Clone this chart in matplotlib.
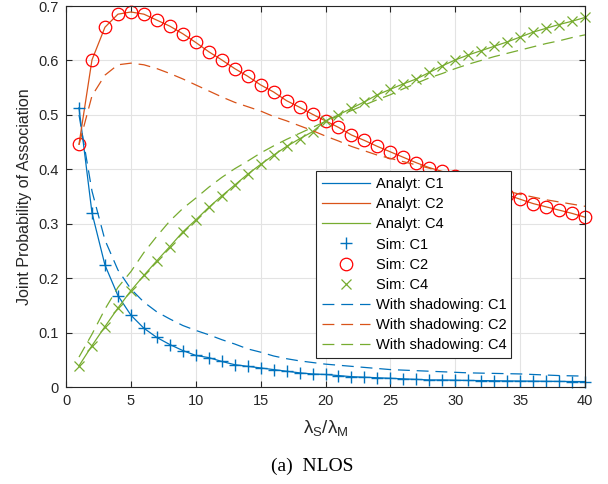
import numpy as np
import matplotlib
matplotlib.use("Agg")
import matplotlib.pyplot as plt

plt.rcParams['font.family'] = ['Liberation Sans', 'DejaVu Sans']
plt.rcParams['mathtext.default'] = 'regular'

# density ratio lambda_S / lambda_M
ratio = np.arange(1, 41)

# joint association probabilities (analytical = simulated points)
p_c1 = [0.513, 0.320, 0.224, 0.168, 0.132, 0.108, 0.091, 0.078, 0.067, 0.058,
        0.054, 0.047, 0.041, 0.038, 0.035, 0.032, 0.029, 0.026, 0.024, 0.023,
        0.021, 0.019, 0.018, 0.017, 0.016, 0.015, 0.014, 0.013, 0.013, 0.0125,
        0.012, 0.0118, 0.0115, 0.0112, 0.011, 0.0108, 0.0105, 0.0103, 0.0101, 0.010]
p_c2 = [0.446, 0.601, 0.661, 0.685, 0.689, 0.685, 0.674, 0.663, 0.649, 0.633,
        0.616, 0.601, 0.585, 0.571, 0.555, 0.542, 0.526, 0.514, 0.501, 0.489,
        0.477, 0.463, 0.453, 0.442, 0.432, 0.422, 0.412, 0.403, 0.396, 0.388,
        0.378, 0.369, 0.361, 0.353, 0.345, 0.337, 0.331, 0.325, 0.319, 0.312]
p_c4 = [0.039, 0.076, 0.111, 0.145, 0.177, 0.205, 0.232, 0.258, 0.285, 0.307,
        0.330, 0.351, 0.371, 0.391, 0.409, 0.426, 0.442, 0.456, 0.469, 0.489,
        0.500, 0.512, 0.524, 0.537, 0.547, 0.557, 0.566, 0.578, 0.590, 0.601,
        0.610, 0.618, 0.626, 0.634, 0.643, 0.652, 0.659, 0.666, 0.672, 0.679]

# with log-normal shadowing
s_c1 = [0.500, 0.360, 0.270, 0.215, 0.180, 0.156, 0.138, 0.125, 0.113, 0.104,
        0.096, 0.087, 0.079, 0.070, 0.064, 0.057, 0.052, 0.048, 0.045, 0.042,
        0.040, 0.038, 0.036, 0.034, 0.032, 0.031, 0.030, 0.029, 0.028, 0.027,
        0.026, 0.0255, 0.025, 0.0245, 0.024, 0.023, 0.022, 0.021, 0.0205, 0.020]
s_c2 = [0.445, 0.535, 0.573, 0.592, 0.595, 0.592, 0.585, 0.576, 0.566, 0.555,
        0.544, 0.533, 0.523, 0.515, 0.507, 0.497, 0.489, 0.480, 0.471, 0.461,
        0.452, 0.442, 0.434, 0.426, 0.420, 0.414, 0.408, 0.402, 0.395, 0.388,
        0.381, 0.374, 0.367, 0.360, 0.354, 0.349, 0.344, 0.340, 0.336, 0.332]
s_c4 = [0.055, 0.097, 0.143, 0.183, 0.212, 0.247, 0.277, 0.305, 0.328, 0.347,
        0.367, 0.385, 0.401, 0.415, 0.430, 0.443, 0.455, 0.466, 0.477, 0.488,
        0.498, 0.508, 0.518, 0.528, 0.537, 0.548, 0.558, 0.568, 0.576, 0.585,
        0.593, 0.600, 0.607, 0.613, 0.619, 0.625, 0.631, 0.636, 0.642, 0.647]

blue = '#0072BD'
orange = '#D95319'
green = '#77AC30'

fig = plt.figure(figsize=(6.08, 4.84), dpi=100)
ax = fig.add_axes([0.1086, 0.2004, 0.8536, 0.7872])

lw = 0.9
ax.plot(ratio, p_c1, color=blue, lw=lw, label='Analyt: C1')
ax.plot(ratio, p_c2, color=orange, lw=lw, label='Analyt: C2')
ax.plot(ratio, p_c4, color=green, lw=lw, label='Analyt: C4')

ax.plot(ratio, p_c1, ls='none', marker='+', ms=9, mew=1.0, color=blue,
        label='Sim: C1', clip_on=False)
ax.plot(ratio, p_c2, ls='none', marker='o', ms=9, mew=0.9, mfc='none',
        color='#FF0000', label='Sim: C2', clip_on=False)
ax.plot(ratio, p_c4, ls='none', marker='x', ms=7.5, mew=0.9, color=green,
        label='Sim: C4', clip_on=False)

dash = (9.5, 5.5)
ax.plot(ratio, s_c1, color=blue, lw=lw, dashes=dash, label='With shadowing: C1')
ax.plot(ratio, s_c2, color=orange, lw=lw, dashes=dash, label='With shadowing: C2')
ax.plot(ratio, s_c4, color=green, lw=lw, dashes=dash, label='With shadowing: C4')

ax.set_xlim(0, 40)
ax.set_ylim(0, 0.7)
ax.set_xticks(np.arange(0, 41, 5))
ax.set_yticks(np.arange(0, 0.71, 0.1))
ax.set_yticklabels(['0', '0.1', '0.2', '0.3', '0.4', '0.5', '0.6', '0.7'])
ax.grid(True, color='#e3e3e3', lw=0.8)
ax.set_axisbelow(True)
ax.tick_params(direction='in', top=True, right=True, length=4, width=0.8,
               colors='#262626', labelsize=10.5, pad=5)
for sp in ax.spines.values():
    sp.set_color('#262626')
    sp.set_linewidth(0.8)

ax.set_xlabel('λ$_\\mathregular{S}$/λ$_\\mathregular{M}$', fontsize=13.5,
              color='#262626', labelpad=7)
ax.set_ylabel('Joint Probability of Association', fontsize=11.5, color='#262626',
              labelpad=5)

leg = ax.legend(loc='lower left', bbox_to_anchor=(0.482, 0.076, 0.375, 0.486),
                mode='expand', fontsize=10.5, fancybox=False, framealpha=1,
                edgecolor='#262626', handlelength=3.3, handletextpad=0.4,
                labelspacing=0.42, borderpad=0.4, borderaxespad=0)
leg.get_frame().set_linewidth(0.8)

fig.text(0.514, 1 - 466 / 484, '(a)  NLOS', family='Liberation Serif',
         fontsize=14, ha='center', va='center')

fig.savefig('out.png', dpi=100)
